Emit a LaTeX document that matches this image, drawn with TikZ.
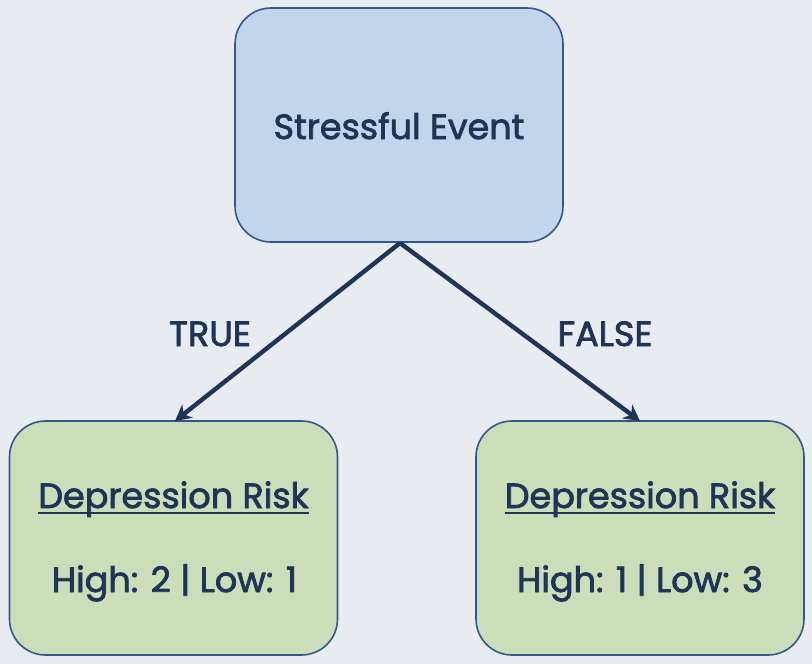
\documentclass[tikz,border=0pt]{standalone}
\usepackage{fontspec}
\setmainfont{Poppins}[FakeBold=2.2]
\usetikzlibrary{arrows.meta}
\definecolor{bg}{HTML}{E8ECF0}
\definecolor{ink}{HTML}{1F3557}
\definecolor{edge}{HTML}{34568F}
\definecolor{topfill}{HTML}{C2D6EB}
\definecolor{leaffill}{HTML}{CADFB9}
\tikzset{
  box/.style={draw=edge, line width=1.6pt, rounded corners=36pt, minimum width=328pt, minimum height=234pt, inner sep=0pt},
  rootbox/.style={box, fill=topfill},
  leafbox/.style={box, fill=leaffill},
  txt/.style={text=ink, font=\fontsize{35}{40}\selectfont, inner sep=0pt, anchor=base},
  conn/.style={draw=ink, line width=4.4pt, -{Stealth[length=16pt,width=17pt]}},
}
\begin{document}
\begin{tikzpicture}[x=1pt,y=-1pt]
\fill[bg] (0,0) rectangle (812,664);
\useasboundingbox (0,0) rectangle (812,664);
\node[rootbox] (root) at (399,125) {};
\node[leafbox] (left) at (173.5,538) {};
\node[leafbox] (right) at (640,538) {};
\node[txt] (roottxt) at (399,139) {Stressful Event};
\node[txt] (lhead) at (173.5,508) {Depression Risk};
\node[txt] (lval) at (174.5,592) {High: 2 | Low: 1};
\node[txt] (rhead) at (640,508) {Depression Risk};
\node[txt] (rval) at (640,592) {High: 1 | Low: 3};
\draw[ink, line width=2pt] ([yshift=-5pt]lhead.base west) -- ([yshift=-5pt]lhead.base east);
\draw[ink, line width=2pt] ([yshift=-5pt]rhead.base west) -- ([yshift=-5pt]rhead.base east);
\coordinate (fork) at (400,243);
\draw[conn] (fork) -- (175,421);
\draw[conn] (fork) -- (640,421);
\node[txt] (ltrue) at (210,346) {TRUE};
\node[txt] (lfalse) at (605,346) {FALSE};
\end{tikzpicture}
\end{document}
